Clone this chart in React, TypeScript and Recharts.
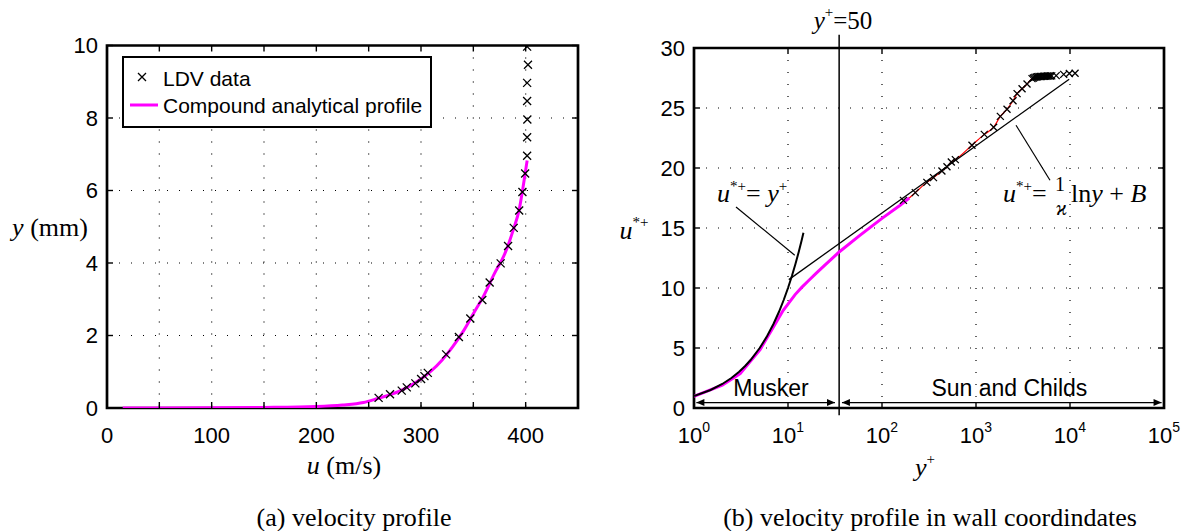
import React from "react";
import {
  ComposedChart,
  Line,
  Scatter,
  XAxis,
  YAxis,
  CartesianGrid,
  ReferenceLine,
  ReferenceDot,
  ReferenceArea,
  Legend,
} from "recharts";

const SANS = '"Liberation Sans", Arial, Helvetica, sans-serif';
const SERIF = '"Liberation Serif", "Times New Roman", Times, serif';
const MAGENTA = "#ff00ff";

// ---------- (a) velocity profile ----------
const ldvVelocity = [259.5, 270.4, 281.6, 286.4, 294.6, 300.1, 303.3, 306.5, 324.0, 336.2, 347.1, 358.6, 365.6, 376.1, 383.2, 388.6, 393.8, 396.9, 399.5, 401.4, 401.4, 401.6, 401.4, 401.4, 402.2, 401.4];
const ldvHeight = [0.28, 0.38, 0.48, 0.57, 0.68, 0.8, 0.88, 0.97, 1.48, 1.96, 2.47, 2.98, 3.46, 3.99, 4.47, 4.97, 5.45, 5.96, 6.47, 6.96, 7.47, 7.96, 8.47, 8.97, 9.47, 9.97];
const profileVelocity = [15, 100, 150, 200, 225, 245, 259.5, 270, 280, 290, 300, 310, 320, 330, 340, 350, 360, 370, 380, 388, 394, 397, 399.5, 401.4];
const profileHeight = [0, 0.005, 0.015, 0.04, 0.08, 0.15, 0.27, 0.36, 0.47, 0.62, 0.8, 1.03, 1.32, 1.68, 2.1, 2.6, 3.1, 3.7, 4.25, 4.9, 5.5, 6.0, 6.47, 6.83];
const velocityTicks = [0, 50, 100, 150, 200, 250, 300, 350, 400, 450];
const heightTicks = [0, 2, 4, 6, 8, 10];

// ---------- (b) velocity profile in wall coordinates ----------
const wallLdvYPlus = [169, 226, 300, 353, 434, 491, 546, 603, 906, 1225, 1541, 1815, 2138, 2477, 2735, 3090, 3490, 3945, 4080, 4220, 4370, 4520, 4680, 4840, 5010, 5190, 5370, 5560, 5750, 5960, 6170, 6390, 7130, 8570, 9840, 11320];
const wallLdvUPlus = [17.3, 17.95, 18.8, 19.2, 19.75, 20.1, 20.5, 20.7, 21.9, 22.8, 23.4, 24.3, 24.9, 25.6, 26.2, 26.6, 27.0, 27.45, 27.5, 27.55, 27.58, 27.6, 27.62, 27.62, 27.63, 27.64, 27.65, 27.65, 27.66, 27.66, 27.67, 27.68, 27.7, 27.8, 27.88, 27.9];
const muskerYPlus = [1, 2, 3.1, 5.05, 7, 8.9, 11.9, 14, 16.5, 20, 25, 35, 58.6, 100, 156, 195];
const muskerUPlus = [0.97, 1.9, 2.87, 4.87, 6.75, 8.14, 9.45, 10.05, 10.6, 11.24, 11.95, 13.0, 14.4, 15.8, 16.9, 17.5];
const sunChildsYPlus = [195, 226, 300, 353, 434, 491, 546, 603, 906, 1225, 1541, 1815, 2138, 2477, 2735, 3090, 3490, 3945, 4300];
const sunChildsUPlus = [17.5, 17.95, 18.8, 19.2, 19.75, 20.1, 20.5, 20.7, 21.9, 22.8, 23.4, 24.3, 24.9, 25.6, 26.2, 26.6, 27.0, 27.45, 27.55];
const linearLawYPlus = [1, 1.5, 2, 2.5, 3, 3.5, 4, 5, 6, 7, 8, 9, 10, 11, 12, 13, 14, 14.6];
const linearLawUPlus = [1, 1.5, 2, 2.5, 3, 3.5, 4, 5, 6, 7, 8, 9, 10, 11, 12, 13, 14, 14.6];
const logLawYPlus = [10.2, 9800];
const logLawUPlus = [10.7, 27.4];
const yPlusTicks = [1, 10, 100, 1000, 10000, 100000];
const uPlusTicks = [0, 5, 10, 15, 20, 25, 30];
const yPlusBoundary = 35; // drawn boundary line labelled y+=50

const zip = (xs: number[], ys: number[]) => xs.map((x, i) => ({ x, y: ys[i] }));

const ldvData = zip(ldvVelocity, ldvHeight);
const profileData = zip(profileVelocity, profileHeight);
const wallLdvData = zip(wallLdvYPlus, wallLdvUPlus);
const muskerData = zip(muskerYPlus, muskerUPlus);
const sunChildsData = zip(sunChildsYPlus, sunChildsUPlus);
const linearLawData = zip(linearLawYPlus, linearLawUPlus);
const logLawData = zip(logLawYPlus, logLawUPlus);

// layout
const A_PW = 471;
const A_PH = 362.5;
const B_PW = 470;
const B_PH = 360;

const tickStroke = { stroke: "#000", strokeWidth: 1.4 };

function makeXTick(plotH: number, show: (v: number) => boolean, label: (v: number) => React.ReactNode) {
  return (props: any) => {
    const { x, y, payload } = props;
    const v = payload.value;
    return (
      <g>
        <line x1={x} y1={y} x2={x} y2={y - 6} {...tickStroke} />
        <line x1={x} y1={y - plotH} x2={x} y2={y - plotH + 6} {...tickStroke} />
        {show(v) ? (
          <text x={x} y={y + 27} textAnchor="middle" dominantBaseline="central" fontFamily={SANS} fontSize={22} fill="#000">
            {label(v)}
          </text>
        ) : null}
      </g>
    );
  };
}

function makeYTick(plotW: number) {
  return (props: any) => {
    const { x, y, payload } = props;
    return (
      <g>
        <line x1={x} y1={y} x2={x + 6} y2={y} {...tickStroke} />
        <line x1={x + plotW} y1={y} x2={x + plotW - 6} y2={y} {...tickStroke} />
        <text x={x - 9} y={y} textAnchor="end" dominantBaseline="central" fontFamily={SANS} fontSize={22} fill="#000">
          {payload.value}
        </text>
      </g>
    );
  };
}

const velocityTick = makeXTick(A_PH, (v) => v % 100 === 0 && v <= 400, (v) => v);
const heightTick = makeYTick(A_PW);
const yPlusTick = makeXTick(B_PH, () => true, (v) => (
  <>
    <tspan>10</tspan>
    <tspan fontSize={14} dy={-8}>{Math.round(Math.log10(v))}</tspan>
  </>
));
const uPlusTick = makeYTick(B_PW);

const XMark = (size: number) => (p: any) => {
  const { cx, cy } = p;
  if (cx == null || cy == null) return <g />;
  return (
    <path
      d={`M${cx - size},${cy - size}L${cx + size},${cy + size}M${cx - size},${cy + size}L${cx + size},${cy - size}`}
      stroke="#000"
      strokeWidth={1.3}
      fill="none"
    />
  );
};

const renderLegend = () => (
  <svg width={310} height={72} style={{ display: "block" }}>
    <rect x={1} y={1} width={308} height={70} fill="#fff" stroke="#000" strokeWidth={2} />
    <path d="M16,17L24,25M16,25L24,17" stroke="#000" strokeWidth={1.3} />
    <line x1={8} y1={49} x2={36} y2={49} stroke={MAGENTA} strokeWidth={3} />
    <text x={41} y={22} dominantBaseline="central" fontFamily={SANS} fontSize={21} fill="#000">LDV data</text>
    <text x={41} y={49} dominantBaseline="central" fontFamily={SANS} fontSize={21} fill="#000">Compound analytical profile</text>
  </svg>
);

const DoubleArrow = (p: any) => {
  const { x1, y1, x2, y2 } = p;
  const h = 8;
  const w = 3.5;
  return (
    <g>
      <line x1={x1} y1={y1} x2={x2} y2={y2} stroke="#000" strokeWidth={1.2} />
      <polygon points={`${x1},${y1} ${x1 + h},${y1 - w} ${x1 + h},${y1 + w}`} fill="#000" />
      <polygon points={`${x2},${y2} ${x2 - h},${y2 - w} ${x2 - h},${y2 + w}`} fill="#000" />
    </g>
  );
};

const textAt = (render: (cx: number, cy: number) => React.ReactNode) => (p: any) => <g>{render(p.cx, p.cy)}</g>;

export default function App() {
  return (
    <div style={{ position: "absolute", left: 0, top: 0, width: 1193, height: 531, background: "#fff" }}>
      {/* (a) */}
      <div style={{ position: "absolute", left: 0, top: 0 }}>
        <ComposedChart width={600} height={531} margin={{ top: 45.5, right: 22, bottom: 93, left: 67 }}>
          <CartesianGrid stroke="#000" strokeDasharray="1 11" strokeWidth={1.2} />
          <XAxis
            dataKey="x"
            type="number"
            domain={[0, 450]}
            ticks={velocityTicks}
            interval={0}
            allowDataOverflow
            height={30}
            tickSize={0}
            tickMargin={0}
            axisLine={false}
            tickLine={false}
            tick={velocityTick}
          />
          <YAxis
            dataKey="y"
            type="number"
            domain={[0, 10]}
            ticks={heightTicks}
            interval={0}
            allowDataOverflow
            width={40}
            tickSize={0}
            tickMargin={0}
            axisLine={false}
            tickLine={false}
            tick={heightTick}
          />
          <ReferenceArea x1={0} x2={450} y1={0} y2={10} fill="none" fillOpacity={0} stroke="#000" strokeWidth={2.7} ifOverflow="visible" />
          <Line data={profileData} dataKey="y" type="monotone" stroke={MAGENTA} strokeWidth={3} dot={false} isAnimationActive={false} />
          <Scatter data={ldvData} dataKey="y" shape={XMark(4)} isAnimationActive={false} />
          <Legend
            layout="vertical"
            align="center"
            verticalAlign="middle"
            wrapperStyle={{ left: 122, top: 56, width: 310, height: 72 }}
            content={renderLegend}
          />
        </ComposedChart>
      </div>

      {/* (b) */}
      <div style={{ position: "absolute", left: 600, top: 0 }}>
        <ComposedChart width={593} height={531} margin={{ top: 48, right: 29, bottom: 93, left: 54 }}>
          <CartesianGrid stroke="#000" strokeDasharray="1 11" strokeWidth={1.2} />
          <XAxis
            dataKey="x"
            type="number"
            scale="log"
            domain={[1, 100000]}
            ticks={yPlusTicks}
            interval={0}
            allowDataOverflow
            height={30}
            tickSize={0}
            tickMargin={0}
            axisLine={false}
            tickLine={false}
            tick={yPlusTick}
          />
          <YAxis
            dataKey="y"
            type="number"
            domain={[0, 30]}
            ticks={uPlusTicks}
            interval={0}
            allowDataOverflow
            width={40}
            tickSize={0}
            tickMargin={0}
            axisLine={false}
            tickLine={false}
            tick={uPlusTick}
          />
          <ReferenceArea x1={1} x2={100000} y1={0} y2={30} fill="none" fillOpacity={0} stroke="#000" strokeWidth={2.7} ifOverflow="visible" />
          <ReferenceLine
            segment={[{ x: yPlusBoundary, y: 31.1 }, { x: yPlusBoundary, y: -0.6 }]}
            stroke="#000"
            strokeWidth={1.5}
            ifOverflow="visible"
          />
          <ReferenceLine segment={[{ x: 1.06, y: 0.45 }, { x: 31.6, y: 0.45 }]} ifOverflow="visible" shape={DoubleArrow} />
          <ReferenceLine segment={[{ x: 37.5, y: 0.45 }, { x: 94200, y: 0.45 }]} ifOverflow="visible" shape={DoubleArrow} />
          <ReferenceLine segment={[{ x: 2.8, y: 16.75 }, { x: 11.8, y: 12.73 }]} stroke="#000" strokeWidth={1.2} ifOverflow="visible" />
          <ReferenceLine segment={[{ x: 2666, y: 23.56 }, { x: 6125, y: 18.98 }]} stroke="#000" strokeWidth={1.2} ifOverflow="visible" />
          <Line data={muskerData} dataKey="y" type="linear" stroke={MAGENTA} strokeWidth={3} dot={false} isAnimationActive={false} />
          <Line data={sunChildsData} dataKey="y" type="monotone" stroke="#ff0000" strokeWidth={1.2} dot={false} isAnimationActive={false} />
          <Line data={linearLawData} dataKey="y" type="linear" stroke="#000" strokeWidth={2} dot={false} isAnimationActive={false} />
          <Line data={logLawData} dataKey="y" type="linear" stroke="#000" strokeWidth={1.3} dot={false} isAnimationActive={false} />
          <Scatter data={wallLdvData} dataKey="y" shape={XMark(3.5)} isAnimationActive={false} />
          <ReferenceDot
            x={38.5}
            y={32.3}
            r={0}
            ifOverflow="visible"
            shape={textAt((cx, cy) => (
              <text x={cx} y={cy} textAnchor="middle" dominantBaseline="central" fontFamily={SERIF} fontSize={25} fill="#000">
                <tspan fontStyle="italic">y</tspan>
                <tspan fontSize={15} dy={-8}>+</tspan>
                <tspan dy={8}>=50</tspan>
              </text>
            ))}
          />
          <ReferenceDot
            x={1.758}
            y={17.18}
            r={0}
            ifOverflow="visible"
            shape={textAt((cx, cy) => (
              <text x={cx} y={cy} fontFamily={SERIF} fontSize={26} fill="#000">
                <tspan fontStyle="italic">u</tspan>
                <tspan fontSize={15} dy={-11}>*+</tspan>
                <tspan dy={11}>= </tspan>
                <tspan fontStyle="italic">y</tspan>
                <tspan fontSize={15} dy={-11}>+</tspan>
              </text>
            ))}
          />
          <ReferenceDot
            x={1937}
            y={17.18}
            r={0}
            ifOverflow="visible"
            shape={textAt((cx, cy) => (
              <g fontFamily={SERIF} fill="#000">
                <text x={cx} y={cy} fontSize={26}>
                  <tspan fontStyle="italic">u</tspan>
                  <tspan fontSize={15} dy={-11}>*+</tspan>
                  <tspan dy={11}>=</tspan>
                </text>
                <text x={cx + 57} y={cy - 11} fontSize={20} textAnchor="middle">1</text>
                <text x={cx + 58.5} y={cy + 13} fontSize={20} textAnchor="middle" fontStyle="italic">ϰ</text>
                <text x={cx + 68} y={cy} fontSize={26}>
                  <tspan>ln</tspan>
                  <tspan fontStyle="italic">y</tspan>
                  <tspan> + </tspan>
                  <tspan fontStyle="italic">B</tspan>
                </text>
              </g>
            ))}
          />
          <ReferenceDot
            x={6.6}
            y={1.64}
            r={0}
            ifOverflow="visible"
            shape={textAt((cx, cy) => (
              <text x={cx} y={cy} textAnchor="middle" dominantBaseline="central" fontFamily={SANS} fontSize={23} fill="#000">Musker</text>
            ))}
          />
          <ReferenceDot
            x={2265}
            y={1.64}
            r={0}
            ifOverflow="visible"
            shape={textAt((cx, cy) => (
              <text x={cx} y={cy} textAnchor="middle" dominantBaseline="central" fontFamily={SANS} fontSize={23} fill="#000">Sun and Childs</text>
            ))}
          />
        </ComposedChart>
      </div>

      {/* axis titles and captions */}
      <svg width={1193} height={531} style={{ position: "absolute", left: 0, top: 0, pointerEvents: "none" }}>
        <g fontFamily={SERIF} fill="#000" fontSize={26}>
          <text x={50} y={227} textAnchor="middle" dominantBaseline="central">
            <tspan fontStyle="italic">y</tspan> (mm)
          </text>
          <text x={344} y={465} textAnchor="middle" dominantBaseline="central">
            <tspan fontStyle="italic">u</tspan> (m/s)
          </text>
          <text x={354} y={517} textAnchor="middle" dominantBaseline="central" fontSize={26}>(a) velocity profile</text>
          <text x={634} y={230} textAnchor="middle" dominantBaseline="central">
            <tspan fontStyle="italic">u</tspan>
            <tspan fontSize={15} dy={-8}>*+</tspan>
          </text>
          <text x={925} y={467} textAnchor="middle" dominantBaseline="central">
            <tspan fontStyle="italic">y</tspan>
            <tspan fontSize={15} dy={-8}>+</tspan>
          </text>
          <text x={930} y={517} textAnchor="middle" dominantBaseline="central" fontSize={26}>(b) velocity profile in wall coordindates</text>
        </g>
      </svg>
    </div>
  );
}
